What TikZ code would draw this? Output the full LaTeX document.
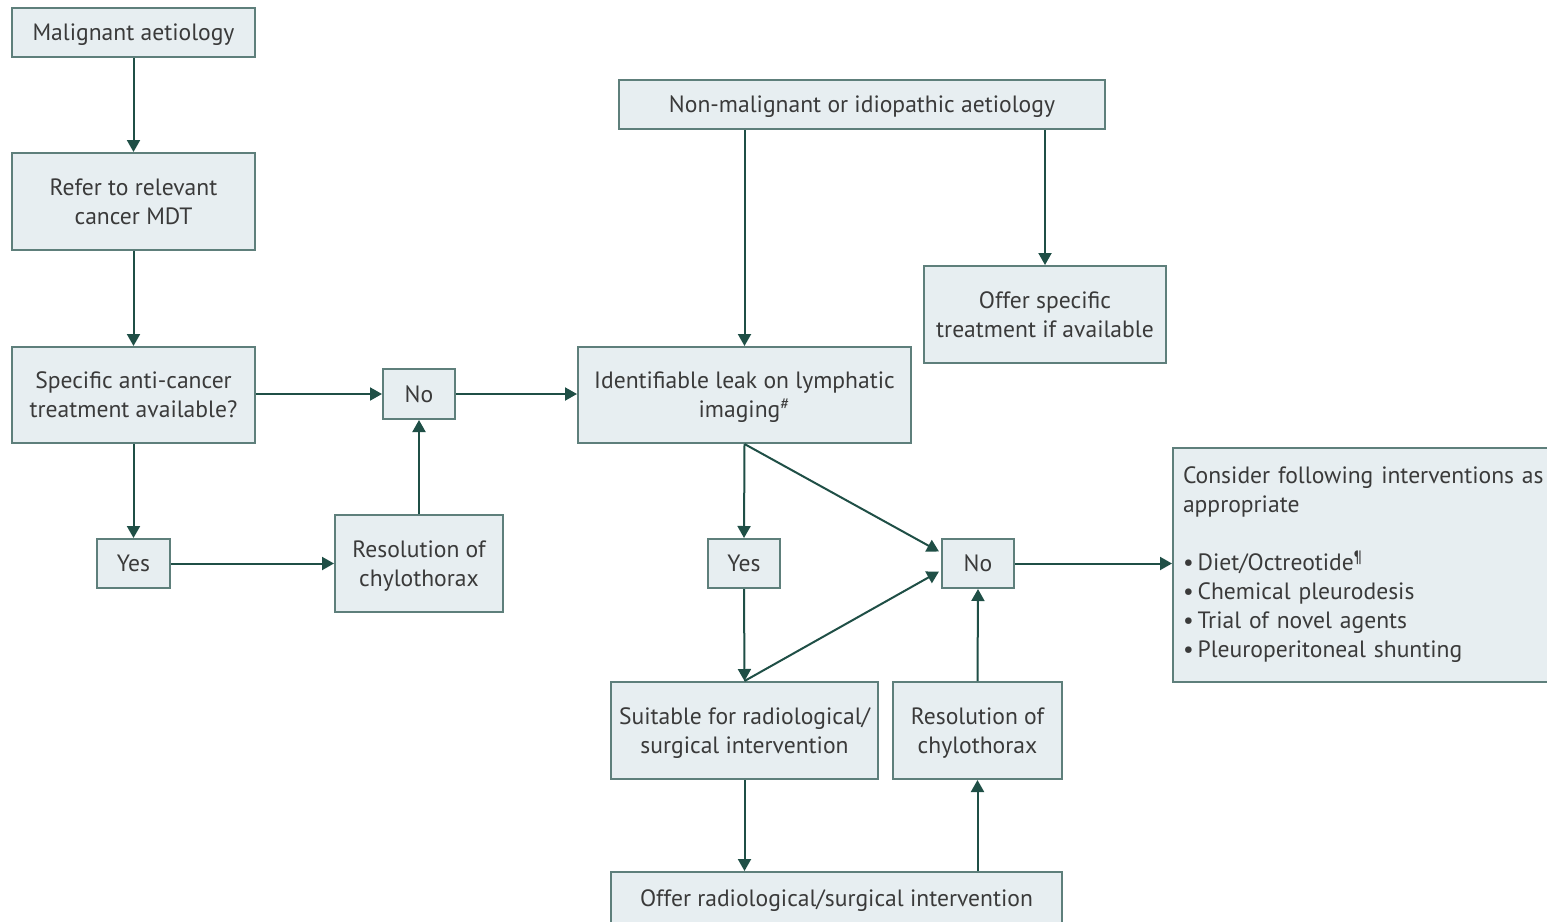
\documentclass[tikz,border=0pt]{standalone}
\usepackage{fontspec}
\setmainfont{PT Sans}
\usetikzlibrary{arrows.meta,calc}
\definecolor{boxfill}{HTML}{E7EEF1}
\definecolor{boxline}{HTML}{5E7F7B}
\definecolor{arrowcol}{HTML}{1F4F46}
\definecolor{txt}{HTML}{3A3A3A}
\tikzset{
  box/.style={draw=boxline, fill=boxfill, line width=1pt, inner sep=0pt, align=center, text=txt,
    text depth=0pt, font=\fontsize{11.8}{14.5}\selectfont},
  conn/.style={draw=arrowcol, line width=1pt, -{Triangle[width=6.5pt,length=6pt]}},
}
\begin{document}
\begin{tikzpicture}[x=0.5pt,y=-0.5pt]
\begin{scope}
\clip (0,0) rectangle (1547,921);
\fill[white] (0,0) rectangle (1547,921);
% left column
\node[box, minimum width=121.5pt, minimum height=24.5pt] (mal) at (133.5,32.5) {Malignant aetiology};
\node[box, minimum width=121.5pt, minimum height=48.5pt] (refer) at (133.5,201.5) {Refer to relevant\\cancer MDT};
\node[box, minimum width=121.5pt, minimum height=48pt] (spec) at (133.5,395) {Specific anti-cancer\\treatment available?};
\node[box, minimum width=36pt, minimum height=25pt] (no1) at (419,394) {No};
\node[box, minimum width=36.5pt, minimum height=24.5pt] (yes1) at (133.5,563.5) {Yes};
\node[box, minimum width=84pt, minimum height=48.5pt] (res1) at (419,563.5) {Resolution of\\chylothorax};
% middle
\node[box, minimum width=243pt, minimum height=24.5pt] (nonmal) at (862,104.5) {Non-malignant or idiopathic aetiology};
\node[box, minimum width=121pt, minimum height=48.5pt] (offspec) at (1045,314.5) {Offer specific\\treatment if available};
\node[box, minimum width=166.5pt, minimum height=48pt] (ident) at (744.5,395) {Identifiable leak on lymphatic\\imaging\textsuperscript{\#}};
\node[box, minimum width=36pt, minimum height=24.5pt] (yes2) at (744,563.5) {Yes};
\node[box, minimum width=36pt, minimum height=24.5pt] (no2) at (978,563.5) {No};
\node[box, minimum width=133.5pt, minimum height=48.5pt] (suit) at (744.5,730.5) {Suitable for radiological/\\surgical intervention};
\node[box, minimum width=84.5pt, minimum height=48.5pt] (res2) at (977.5,730.5) {Resolution of\\chylothorax};
\node[box, minimum width=225.5pt, minimum height=26pt] (offrad) at (836.5,898) {Offer radiological/surgical intervention};
\node[box, text depth={}, anchor=north west, minimum width=204pt, minimum height=117pt, text width=194pt, inner xsep=5pt, align=left] (cons) at (1172,447)
  {Consider following interventions as\\appropriate\\[14.5pt]
   \textbullet\,Diet/Octreotide\textsuperscript{¶}\\
   \textbullet\,Chemical pleurodesis\\
   \textbullet\,Trial of novel agents\\
   \textbullet\,Pleuroperitoneal shunting};
% connectors
\draw[conn] (mal) -- (refer);
\draw[conn] (refer) -- (spec);
\draw[conn] (spec.east |- no1.west) -- (no1.west);
\draw[conn] (spec) -- (yes1);
\draw[conn] (yes1) -- (res1);
\draw[conn] (res1) -- (no1);
\draw[conn] (no1.east) -- (no1.east -| ident.west);
\draw[conn] (nonmal.south -| ident.north) -- (ident.north);
\draw[conn] (nonmal.south -| offspec.north) -- (offspec.north);
\draw[conn] (ident.south) -- (yes2.north);
\draw[conn] (ident.south) -- ($(no2.west)+(-2,-12)$);
\draw[conn] (yes2.south) -- (suit.north);
\draw[conn] (suit.north) -- ($(no2.west)+(-2,8)$);
\draw[conn] (res2.north) -- (no2.south);
\draw[conn] (no2.east) -- (cons.west |- no2.east);
\draw[conn] (suit.south) -- (offrad.north -| suit.south);
\draw[conn] (offrad.north -| res2.south) -- (res2.south);
\end{scope}
\pgfresetboundingbox
\useasboundingbox (0,0) rectangle (1547,921);
\end{tikzpicture}
\end{document}
